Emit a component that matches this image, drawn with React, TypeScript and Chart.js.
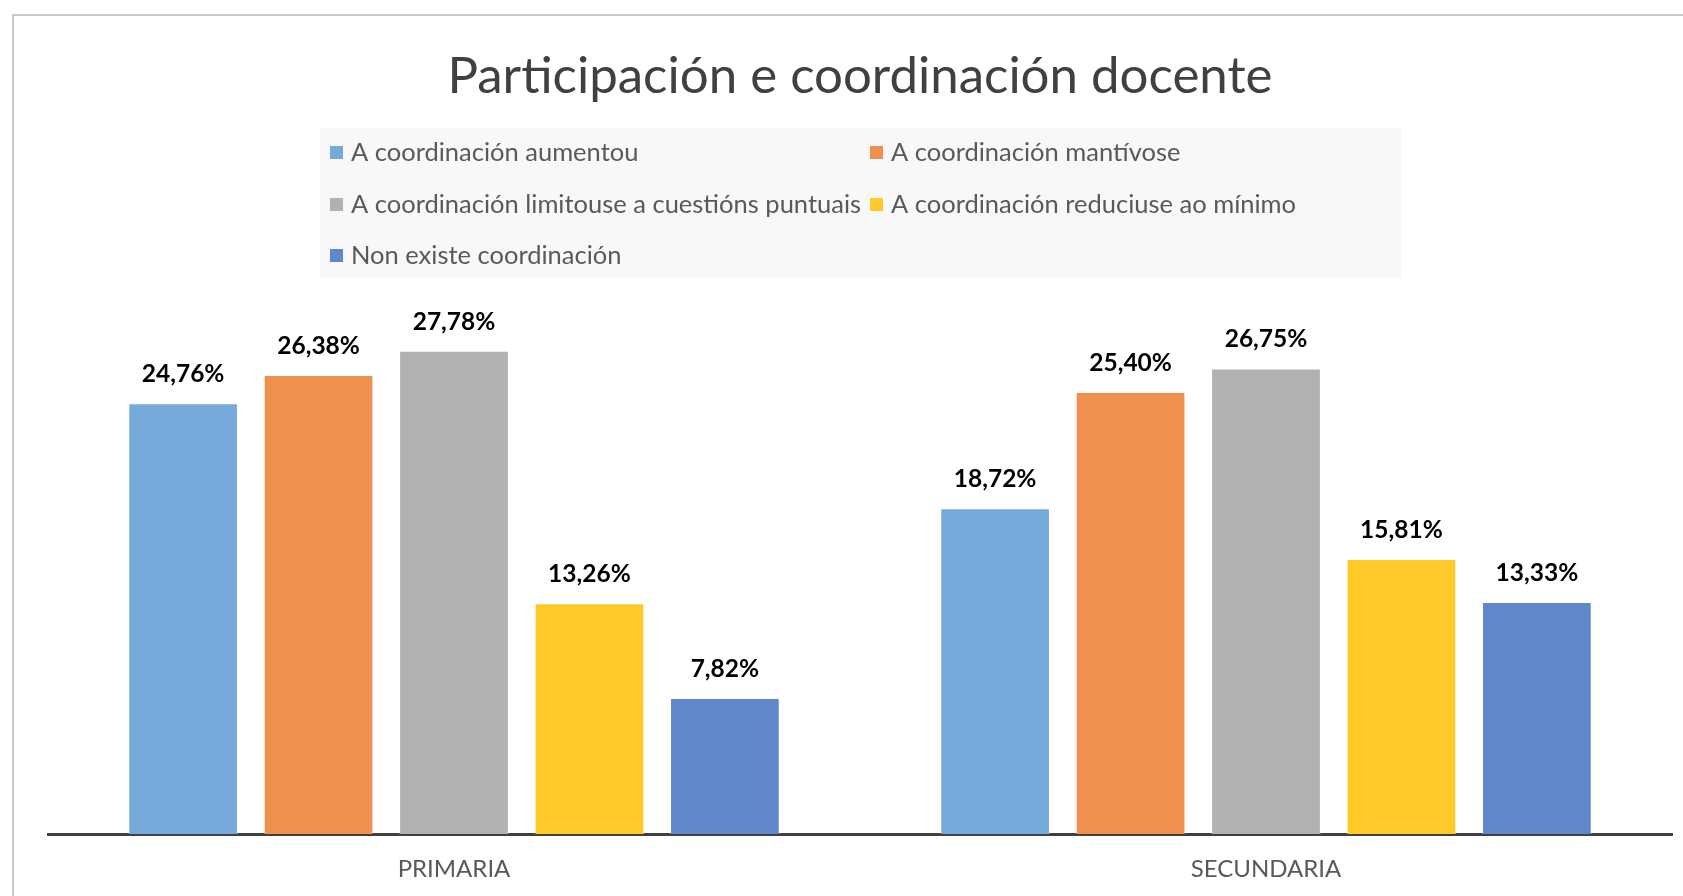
import React, { useEffect, useRef } from "react";
import { Chart, registerables } from "chart.js";

Chart.register(...registerables);

const titleText = "Participación e coordinación docente";
const categories = ["PRIMARIA", "SECUNDARIA"];
const seriesNames = [
  "A coordinación aumentou",
  "A coordinación mantívose",
  "A coordinación limitouse a cuestións puntuais",
  "A coordinación reduciuse ao mínimo",
  "Non existe coordinación",
];
const aumentou = [24.76, 18.72];
const mantivose = [26.38, 25.4];
const limitouse = [27.78, 26.75];
const reduciuse = [13.26, 15.81];
const nonExiste = [7.82, 13.33];
const seriesValues = [aumentou, mantivose, limitouse, reduciuse, nonExiste];
const seriesColors = ["#75A9DA", "#EF904F", "#B1B1B1", "#FFC927", "#5F87CA"];
const yMax = 30;

const FONT = "Lato, 'Open Sans', sans-serif";

const decorPlugin = {
  id: "decor",
  beforeDraw(chart: any) {
    const ctx = chart.ctx;
    ctx.save();
    ctx.fillStyle = "#ffffff";
    ctx.fillRect(0, 0, chart.width, chart.height);
    ctx.strokeStyle = "#c8c8c8";
    ctx.lineWidth = 2;
    ctx.beginPath();
    ctx.moveTo(13, chart.height + 5);
    ctx.lineTo(13, 15);
    ctx.lineTo(chart.width + 5, 15);
    ctx.stroke();

    // title
    ctx.fillStyle = "#404040";
    ctx.font = `51px ${FONT}`;
    ctx.textAlign = "center";
    ctx.textBaseline = "alphabetic";
    const ca = chart.chartArea;
    ctx.fillText(titleText, (ca.left + ca.right) / 2, 93);

    // legend
    ctx.fillStyle = "#f8f8f8";
    ctx.fillRect(320, 128, 1081, 149);
    const rows = [152, 204, 255];
    const cols = [330, 870];
    ctx.font = `25.5px ${FONT}`;
    ctx.textAlign = "left";
    ctx.textBaseline = "middle";
    seriesNames.forEach((name, i) => {
      const r = Math.floor(i / 2);
      const c = i % 2;
      const x = cols[c];
      const y = rows[r];
      ctx.fillStyle = seriesColors[i];
      ctx.fillRect(x, y - 6, 13, 13);
      ctx.fillStyle = "#595959";
      ctx.fillText(name, x + 21, y + 1);
    });
    ctx.restore();
  },
  afterDatasetsDraw(chart: any) {
    const ctx = chart.ctx;
    ctx.save();
    ctx.font = `bold 24.5px ${FONT}`;
    ctx.fillStyle = "#000000";
    ctx.textAlign = "center";
    ctx.textBaseline = "middle";
    chart.data.datasets.forEach((ds: any, di: number) => {
      const meta = chart.getDatasetMeta(di);
      meta.data.forEach((bar: any, i: number) => {
        const v = ds.data[i] as number;
        const label = v.toFixed(2).replace(".", ",") + "%";
        ctx.fillText(label, bar.x, bar.y - 29);
      });
    });
    ctx.restore();
  },
};

function App() {
  const canvasRef = useRef<HTMLCanvasElement | null>(null);

  useEffect(() => {
    const canvas = canvasRef.current;
    if (!canvas) return;
    const chart = new Chart(canvas, {
      type: "bar",
      data: {
        labels: categories,
        datasets: seriesNames.map((name, i) => ({
          label: name,
          data: seriesValues[i],
          backgroundColor: seriesColors[i],
          borderColor: "rgba(255,255,255,0.35)",
          borderWidth: 1,
          categoryPercentage: 0.834,
          barPercentage: 0.81,
        })),
      },
      options: {
        responsive: false,
        animation: false,
        devicePixelRatio: 1,
        layout: { padding: { top: 312, left: 48, right: 11, bottom: 0 } },
        plugins: {
          legend: { display: false },
          title: { display: false },
          tooltip: { enabled: false },
        },
        scales: {
          x: {
            grid: { display: false, drawTicks: false, tickLength: 0 },
            border: { display: true, color: "#404040", width: 3 },
            ticks: {
              color: "#595959",
              font: { family: FONT, size: 24 },
              padding: 21,
            },
            afterFit: (scale: any) => {
              scale.height = 62;
            },
          },
          y: {
            display: false,
            min: 0,
            max: yMax,
          },
        },
      },
      plugins: [decorPlugin],
    });
    return () => chart.destroy();
  }, []);

  return (
    <div
      style={{
        position: "absolute",
        left: 0,
        top: 0,
        width: 1683,
        height: 896,
        overflow: "hidden",
        background: "#fff",
      }}
    >
      <canvas ref={canvasRef} width={1683} height={896} style={{ display: "block" }} />
    </div>
  );
}

export default App;
